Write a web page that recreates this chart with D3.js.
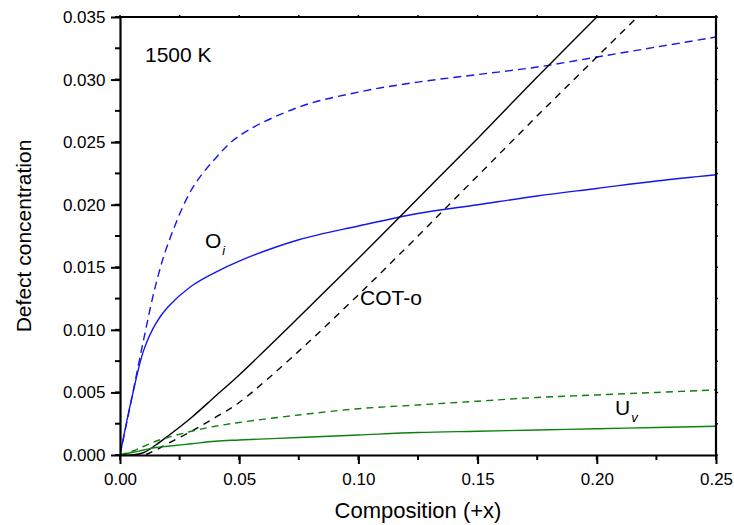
<!DOCTYPE html>
<html>
<head>
<meta charset="utf-8">
<script src="https://cdnjs.cloudflare.com/ajax/libs/d3/7.8.5/d3.min.js"></script>
<style>
    body { margin: 0; background: #fff; }
    text { font-family: Arial, "Liberation Sans", sans-serif; fill: #000; }
</style>
</head>
<body>
<div id="chart"></div>
<script>
// composition values shared by every curve
const comp = [0, 0.005, 0.01, 0.015, 0.02, 0.03, 0.04, 0.05, 0.075, 0.10, 0.125, 0.15, 0.175, 0.20, 0.225, 0.25];

// O_i
const oiSolid = [0, 0.0046, 0.0084, 0.0105, 0.0118, 0.0135, 0.0146, 0.0155, 0.0172, 0.0183, 0.0193, 0.0200, 0.0207, 0.0213, 0.0219, 0.0224];
const oiDash  = [0, 0.0046, 0.0093, 0.0136, 0.0168, 0.0212, 0.0237, 0.0255, 0.0278, 0.0290, 0.0298, 0.0304, 0.0310, 0.0318, 0.0326, 0.0334];
// COT-o
const cotSolid = [0, 0, 0.0002, 0.0008, 0.0015, 0.0030, 0.0047, 0.0064, 0.0110, 0.0157, 0.0205, 0.0253, 0.0302, 0.0350, 0.0398, 0.0446];
const cotDash  = [0, 0, 0, 0.0004, 0.0009, 0.0019, 0.0030, 0.0042, 0.0083, 0.0128, 0.0175, 0.0223, 0.0271, 0.0318, 0.0365, 0.0412];
// U_v
const uvSolid = [0, 0.0002, 0.0004, 0.0006, 0.0007, 0.0009, 0.0011, 0.0012, 0.0014, 0.0016, 0.0018, 0.0019, 0.0020, 0.0021, 0.0022, 0.0023];
const uvDash  = [0, 0.0003, 0.0007, 0.0011, 0.0014, 0.0019, 0.0023, 0.0026, 0.0032, 0.0037, 0.0040, 0.0043, 0.0046, 0.0048, 0.0050, 0.0052];

const xTicks = [0, 0.05, 0.10, 0.15, 0.20, 0.25];
const yTicks = [0, 0.005, 0.010, 0.015, 0.020, 0.025, 0.030, 0.035];

const series = [
    {values: oiDash, color: "#1515ee", dash: "8,5"},
    {values: oiSolid, color: "#1515ee", dash: null},
    {values: cotDash, color: "#000", dash: "7,6"},
    {values: cotSolid, color: "#000", dash: null},
    {values: uvDash, color: "#0d800d", dash: "7,5"},
    {values: uvSolid, color: "#0d800d", dash: null}
];

var margin = {top: 17, right: 18, bottom: 70, left: 120},
    width = 734 - margin.left - margin.right,
    height = 525 - margin.top - margin.bottom;

var x = d3.scaleLinear().domain([0, 0.25]).range([0, width]);
var y = d3.scaleLinear().domain([0, 0.035]).range([height, 0]);

var svg = d3.select("#chart").append("svg")
        .attr("width", 734)
        .attr("height", 525)
    .append("g")
        .attr("transform", `translate(${margin.left}, ${margin.top})`);

svg.append("clipPath").attr("id", "clip")
    .append("rect").attr("width", width).attr("height", height);

var line = d3.line()
    .x(d => x(d[0]))
    .y(d => y(d[1]))
    .curve(d3.curveCatmullRom.alpha(0.5));

// curves
svg.append("g").attr("clip-path", "url(#clip)")
    .selectAll("path")
    .data(series).enter()
    .append("path")
        .attr("d", s => line(comp.map((c, i) => [c, s.values[i]])))
        .attr("fill", "none")
        .attr("stroke", s => s.color)
        .attr("stroke-width", 1.4)
        .attr("stroke-dasharray", s => s.dash);

// minor tick values
var xMinor = d3.range(0, 11).map(i => i * 0.025);
var yMinor = d3.range(0, 15).map(i => i * 0.0025);

// bottom axis
var xAxis = svg.append("g")
    .attr("transform", `translate(0, ${height})`)
    .call(d3.axisBottom(x).tickValues(xTicks).tickFormat(d3.format(".2f")).tickSize(9).tickSizeOuter(0));
xAxis.append("g").selectAll("line")
    .data(xMinor).enter().append("line")
        .attr("x1", d => x(d)).attr("x2", d => x(d))
        .attr("y1", 0).attr("y2", 5)
        .attr("stroke", "#000").attr("stroke-width", 2);

// left axis
var yAxis = svg.append("g")
    .call(d3.axisLeft(y).tickValues(yTicks).tickFormat(d3.format(".3f")).tickSize(9).tickSizeOuter(0));
yAxis.append("g").selectAll("line")
    .data(yMinor).enter().append("line")
        .attr("y1", d => y(d)).attr("y2", d => y(d))
        .attr("x1", 0).attr("x2", -5)
        .attr("stroke", "#000").attr("stroke-width", 2);

[xAxis, yAxis].forEach(a => {
    a.select(".domain").attr("stroke-width", 2.2);
    a.selectAll(".tick line").attr("stroke-width", 2);
    a.selectAll(".tick text").style("font-size", "17px").attr("fill", "#000");
});
xAxis.selectAll(".tick text").attr("dy", "1.05em");
yAxis.selectAll(".tick text").attr("dx", "-0.15em");

// top and right frame with tiny ticks
svg.append("line").attr("x1", -1).attr("x2", width + 1).attr("y1", 0).attr("y2", 0)
    .attr("stroke", "#000").attr("stroke-width", 2.2);
svg.append("line").attr("x1", width).attr("x2", width).attr("y1", 0).attr("y2", height)
    .attr("stroke", "#000").attr("stroke-width", 2.2);
svg.append("g").selectAll("line")
    .data(xMinor).enter().append("line")
        .attr("x1", d => x(d)).attr("x2", d => x(d))
        .attr("y1", 0).attr("y2", -2)
        .attr("stroke", "#000").attr("stroke-width", 1.5);
svg.append("g").selectAll("line")
    .data(yMinor).enter().append("line")
        .attr("y1", d => y(d)).attr("y2", d => y(d))
        .attr("x1", width).attr("x2", width + 2)
        .attr("stroke", "#000").attr("stroke-width", 1.5);

// axis titles
svg.append("text")
    .attr("x", width / 2)
    .attr("y", height + 63)
    .style("text-anchor", "middle")
    .style("font-size", "22px")
    .text("Composition (+x)");

svg.append("text")
    .attr("transform", "rotate(-90)")
    .attr("x", -height / 2)
    .attr("y", -89)
    .style("text-anchor", "middle")
    .style("font-size", "21px")
    .text("Defect concentration");

// labels inside the plot
svg.append("text")
    .attr("x", 25).attr("y", 45)
    .style("font-size", "21px")
    .text("1500 K");

var oiLabel = svg.append("text")
    .attr("x", 85).attr("y", 231)
    .style("font-size", "21px")
    .text("O");
oiLabel.append("tspan")
    .attr("dx", 1).attr("dy", 7)
    .style("font-size", "13px").style("font-style", "italic")
    .text("i");

svg.append("text")
    .attr("x", 240).attr("y", 288)
    .style("font-size", "21px")
    .text("COT-o");

var uvLabel = svg.append("text")
    .attr("x", 495).attr("y", 398)
    .style("font-size", "21px")
    .text("U");
uvLabel.append("tspan")
    .attr("dx", 1).attr("dy", 7)
    .style("font-size", "13px").style("font-style", "italic")
    .text("v");
</script>
</body>
</html>
